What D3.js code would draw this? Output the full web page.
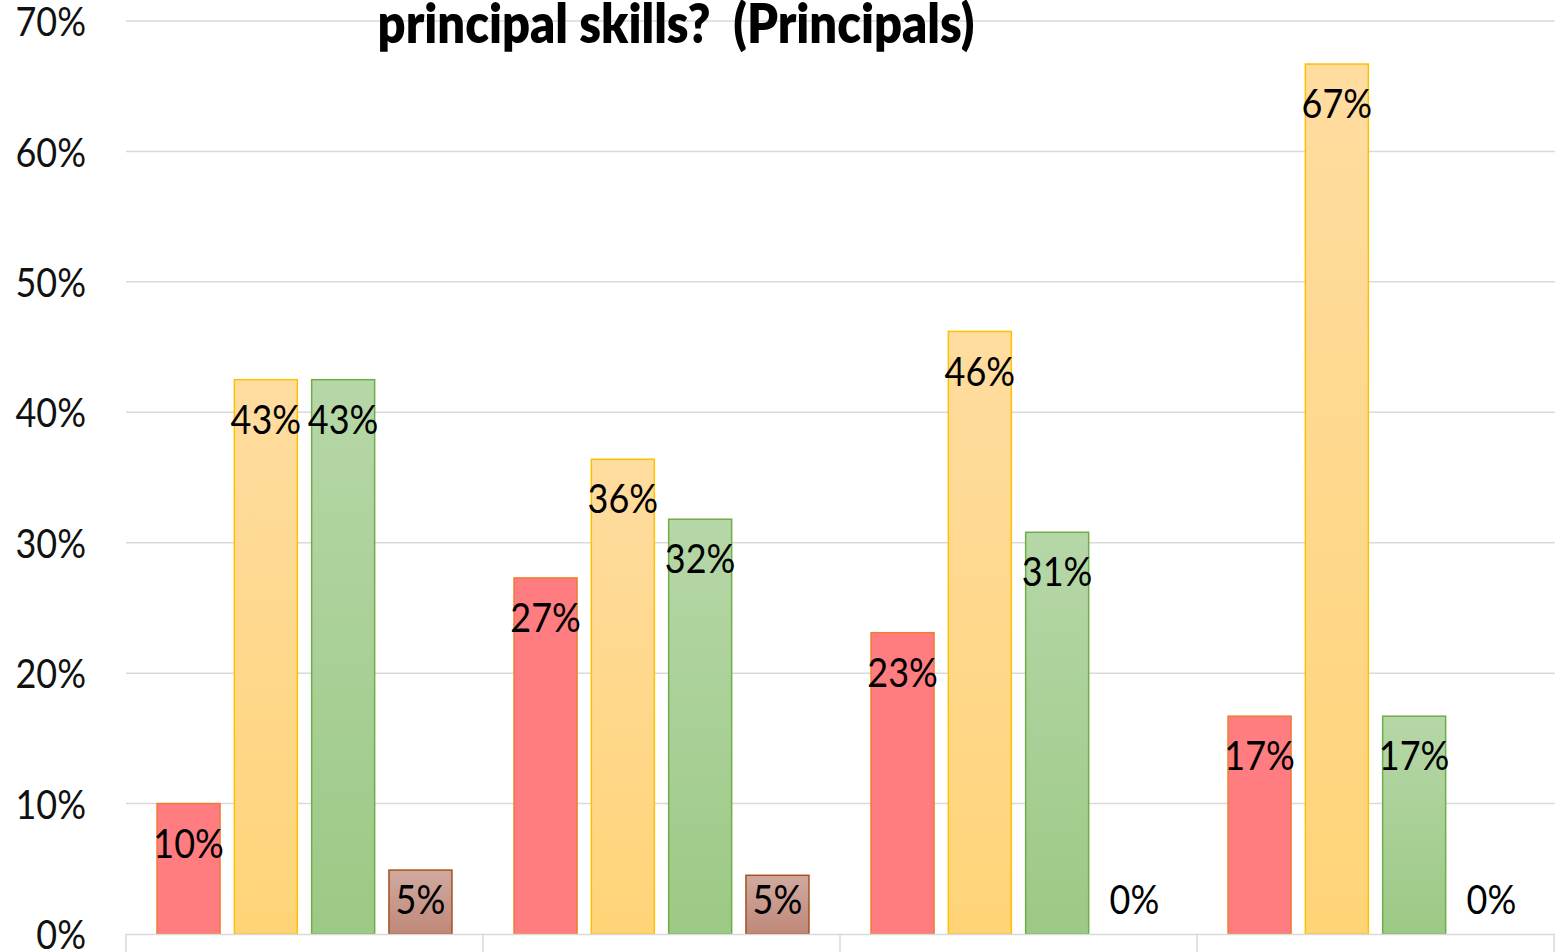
<!DOCTYPE html>
<html><head><meta charset="utf-8">
<script src="https://cdn.jsdelivr.net/npm/d3@7/dist/d3.min.js"></script>
<style>html,body{margin:0;padding:0;background:#fff;overflow:hidden}</style>
</head><body>
<svg id="chart" width="1560" height="952"></svg>
<script>
// ---- data ----
const categories = ["Group A", "Group B", "Group C", "Group D"];
const seriesNames = ["Series 1", "Series 2", "Series 3", "Series 4"];
const series1 = [0.10, 0.273, 0.231, 0.167];
const series2 = [0.425, 0.364, 0.462, 0.667];
const series3 = [0.425, 0.318, 0.308, 0.167];
const series4 = [0.049, 0.045, 0.0, 0.0];
const yTicks = [0, 0.1, 0.2, 0.3, 0.4, 0.5, 0.6, 0.7];
const titleText = "principal skills?  (Principals)";

(function(){
const allSeries = [series1, series2, series3, series4];
const fills = [
  ["#FF7C80", "#FF7C80"],
  ["#FFDCA0", "#FFD478"],
  ["#B6D7A8", "#9CC985"],
  ["#D0AA9F", "#BF887A"]
];
const strokes = ["#ED7D31", "#FFC000", "#70AD47", "#A5501E"];

const svg = d3.select("#chart");
const defs = svg.append("defs");
fills.forEach((f, i) => {
  const g = defs.append("linearGradient").attr("id", "g" + i)
    .attr("x1", 0).attr("y1", 0).attr("x2", 0).attr("y2", 1);
  g.append("stop").attr("offset", "0%").attr("stop-color", f[0]);
  g.append("stop").attr("offset", "100%").attr("stop-color", f[1]);
});

const pLeft = 126, pRight = 1554, pTop = 21, pBottom = 934;
const y = d3.scaleLinear().domain([0, 0.7]).range([pBottom, pTop]);
const x0 = d3.scaleBand().domain(categories).range([pLeft, pRight]).paddingInner(0).paddingOuter(0);
const x1 = d3.scaleBand().domain(seriesNames).range([0, x0.bandwidth()]).paddingInner(0.185).paddingOuter(0.4015);

const font = "Lato, 'Open Sans', sans-serif";

// gridlines
svg.append("g").selectAll("line").data(yTicks.filter(d => d > 0)).join("line")
  .attr("x1", pLeft).attr("x2", pRight + 1)
  .attr("y1", d => y(d)).attr("y2", d => y(d))
  .attr("stroke", "#D9D9D9").attr("stroke-width", 1.5);

// y axis labels
const yAxis = d3.axisLeft(y).tickValues(yTicks).tickFormat(d3.format(".0%")).tickSize(0).tickPadding(0);
const yg = svg.append("g").attr("transform", `translate(86,0)`).call(yAxis);
yg.select(".domain").remove();
yg.selectAll(".tick").attr("transform", null);
yg.selectAll(".tick text")
  .attr("font-family", font).attr("font-size", 36).attr("fill", "#111")
  .attr("x", 0).attr("y", 0).attr("dy", null).attr("dominant-baseline", "central")
  .attr("transform", d => `translate(0,${y(d)}) scale(1,1.1)`);

// bars
const rows = categories.map((c, ci) => ({ cat: c, vals: allSeries.map((s, si) => ({ si, name: seriesNames[si], v: s[ci] })) }));
const gg = svg.append("g").selectAll("g").data(rows).join("g")
  .attr("transform", d => `translate(${x0(d.cat)},0)`);
gg.selectAll("rect").data(d => d.vals.filter(v => v.v > 0)).join("rect")
  .attr("x", d => x1(d.name)).attr("width", x1.bandwidth())
  .attr("y", d => y(d.v)).attr("height", d => pBottom - y(d.v))
  .attr("fill", d => `url(#g${d.si})`)
  .attr("stroke", d => strokes[d.si]).attr("stroke-width", 1.5);

// data labels
const labY = d => Math.min(y(d.v) + 39, 899);
gg.selectAll("text").data(d => d.vals).join("text")
  .attr("x", 0).attr("y", 0)
  .attr("text-anchor", "middle").attr("dominant-baseline", "central")
  .attr("font-family", font).attr("font-size", 36).attr("fill", "#000")
  .attr("transform", d => `translate(${x1(d.name) + x1.bandwidth() / 2},${labY(d)}) scale(1,1.1)`)
  .text(d => d3.format(".0%")(d.v));

// x axis line and ticks
const xAxis = d3.axisBottom(x0).tickSize(0).tickFormat("");
const xg = svg.append("g").attr("transform", `translate(0,${pBottom})`).call(xAxis);
xg.select(".domain").attr("stroke", "#D9D9D9").attr("stroke-width", 1.5);
xg.selectAll(".tick").remove();
xg.selectAll(".sep").data([...categories.map(c => x0(c)), pRight]).join("line")
  .attr("class", "sep")
  .attr("x1", d => d).attr("x2", d => d).attr("y1", 0).attr("y2", 30)
  .attr("stroke", "#D9D9D9").attr("stroke-width", 1.5);

// title
const t = svg.append("text").attr("x", 0).attr("y", 0)
  .attr("text-anchor", "middle").attr("font-family", font).attr("font-weight", 800)
  .style("white-space", "pre").attr("xml:space", "preserve")
  .attr("font-size", 44).attr("fill", "#000").text(titleText);
const w = t.node().getComputedTextLength();
const fs = 44 * 597 / w;
t.attr("font-size", fs)
 .attr("transform", `translate(676,43) scale(1,${(28 / (0.51 * fs)).toFixed(3)})`);
})();
</script>
</body></html>
